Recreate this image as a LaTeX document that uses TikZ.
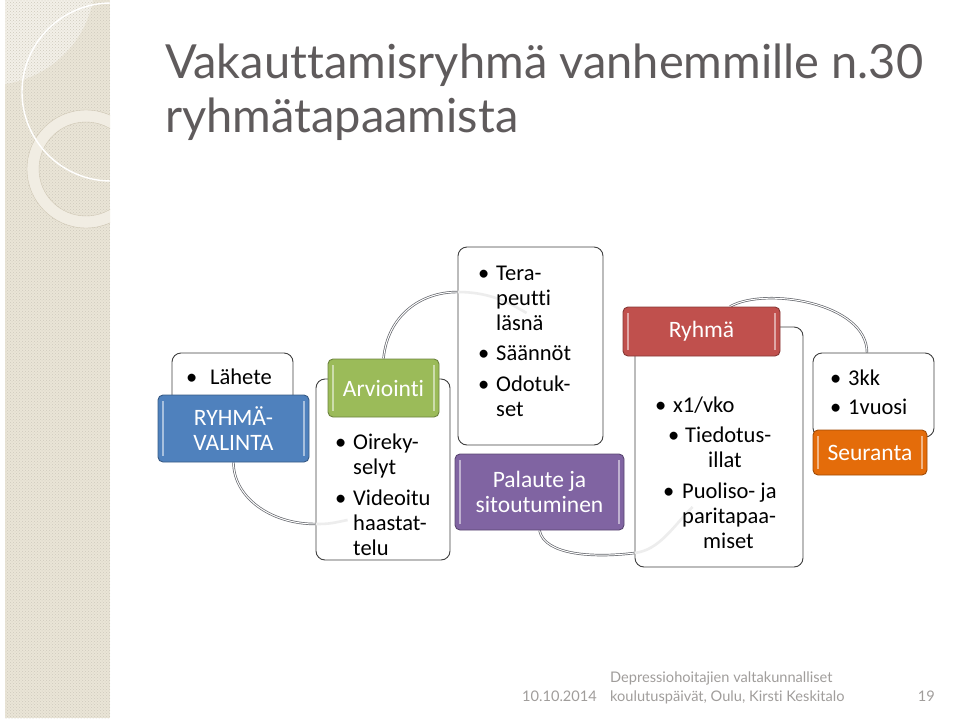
\documentclass[tikz,border=0pt]{standalone}
\usepackage{fontspec}
\setmainfont{Carlito}[Ligatures=NoCommon]
\newfontfamily\gillfont{Lato}[Ligatures=NoCommon]
\definecolor{titlegray}{RGB}{95,91,92}
\definecolor{footgray}{RGB}{160,157,155}
\definecolor{strip}{RGB}{234,229,215}
\definecolor{stripLight}{RGB}{243,240,232}
\definecolor{ringFill}{RGB}{241,237,227}
\definecolor{ringLine}{RGB}{205,197,178}
\definecolor{cBlue}{RGB}{79,129,189}
\definecolor{cGreen}{RGB}{155,187,89}
\definecolor{cPurple}{RGB}{128,100,162}
\definecolor{cRed}{RGB}{192,80,77}
\definecolor{cOrange}{RGB}{228,108,10}
\definecolor{linkgray}{RGB}{100,102,108}
\usetikzlibrary{arrows.meta,calc,backgrounds,patterns}
\newcommand\bul[1][18pt]{\makebox[#1][l]{•}}
\newcommand\cont[1][18pt]{\hspace*{#1}}
\tikzset{
  card/.style={draw=black!75, rounded corners=9pt, line width=0.9pt, fill=white, inner sep=0pt},
  tab/.style={draw=#1!70!black, fill=#1, rounded corners=5pt, line width=0.9pt,
              text=white, align=center, inner sep=0pt, font=\fontsize{23.5}{25.5}\selectfont,
              path picture={\draw[white,opacity=.5,line width=1.6pt]
                ([xshift=5pt,yshift=-6pt]path picture bounding box.north west) --
                ([xshift=5pt,yshift=6pt]path picture bounding box.south west)
                ([xshift=-5pt,yshift=-6pt]path picture bounding box.north east) --
                ([xshift=-5pt,yshift=6pt]path picture bounding box.south east);}},
  lst/.style={inner sep=0pt, align=left, anchor=base west, font=\fontsize{22.5}{25}\selectfont},
  foot/.style={inner sep=0pt, text=footgray, font=\gillfont\fontsize{14.6}{19}\selectfont},
  link/.style={draw=linkgray, double=white, double distance=1pt, line width=0.7pt},
  trail/.style={draw=black!7, line width=2.6pt},
}
\begin{document}
\begin{tikzpicture}[x=1pt,y=-1pt]
  \useasboundingbox (0,0) rectangle (959,718);
  % side strip
  \begin{scope}
    \clip (5,0) rectangle (110,718);
    \fill[strip] (5,0) rectangle (110,718);
    \fill[stripLight] (-10,-20) circle[radius=105];
    \pattern[pattern=crosshatch dots, pattern color=strip!88!black] (5,0) rectangle (110,718);
    \fill[ringFill, even odd rule] (86,169) circle[radius=59] (86,169) circle[radius=47];
    \draw[ringLine, thin] (86,169) circle[radius=59] (86,169) circle[radius=47];
    \draw[white, line width=1.4pt] (111,92) circle[radius=89];
  \end{scope}
  % title
  \node[font=\gillfont\fontsize{47}{54}\selectfont, text=titlegray, anchor=base west, inner sep=0pt]
    (ttl1) at (165,78) {Vakauttamisryhmä vanhemmille n.30};
  \node[font=\gillfont\fontsize{47}{54}\selectfont, text=titlegray, anchor=base west, inner sep=0pt]
    (ttl2) at (165,132) {ryhmätapaamista};
  % cards
  \node[card, minimum width=121pt, minimum height=67pt]  (lahete) at (232.5,386.5) {};
  \node[card, minimum width=134pt, minimum height=181pt] (arvl)   at (383,469.5) {};
  \node[card, minimum width=145pt, minimum height=198pt] (kokous) at (530.5,346) {};
  \node[card, minimum width=168pt, minimum height=240pt] (ryhl)   at (719,447) {};
  \node[card, minimum width=121pt, minimum height=84pt]  (seul)   at (873.5,395) {};
  % ends of the links
  \coordinate (inB) at ($(arvl.west)+(0,54.5)$);
  \coordinate (inC) at ($(kokous.west)+(0,-54)$);
  \coordinate (inD) at ($(ryhl.west)+(0,106)$);
  \draw[trail] (inB) .. controls +(15,0) and +(-15,3) .. ++(32,-4);
  \draw[trail] (inC) .. controls +(30,0) and +(-20,-12) .. ++(69,21);
  \draw[trail] (inD) .. controls +(25,-3) and +(-20,20) .. ++(58,-46);
  % lists (placed at the baseline of their last line)
  \node[lst] (lstA) at (186,384) {\bul[24pt]Lähete};
  \node[lst] (lstB) at (335,555) {\bul Oireky-\\\cont selyt\\[5.5pt]\bul Videoitu\\\cont haastat-\\\cont telu};
  \node[lst] (lstC) at (478,416) {\bul Tera-\\\cont peutti\\\cont läsnä\\[5.5pt]\bul Säännöt\\[5.5pt]\bul Odotuk-\\\cont set};
  \node[lst] (lstD) at (655,548) {\bul x1/vko\\[5.5pt]\cont[13pt]\bul[17pt]Tiedotus-\\\cont[53pt]illat\\[5.5pt]\cont[8pt]\bul[19pt]Puoliso- ja\\\cont[27pt]paritapaa-\\\cont[48pt]miset};
  \node[lst] (lstE) at (830,414) {\bul 3kk\\[4pt]\bul 1vuosi};
  % coloured tabs
  \node[tab=cBlue,   minimum width=151pt, minimum height=67pt] (valinta)  at (233.5,428.5) {RYHMÄ-\\VALINTA};
  \node[tab=cGreen,  minimum width=111pt, minimum height=58pt] (arviointi) at (383.5,388) {Arviointi};
  \node[tab=cPurple, minimum width=169pt, minimum height=76pt] (palaute)  at (539.5,492) {Palaute ja\\sitoutuminen};
  \node[tab=cRed,    minimum width=157pt, minimum height=49pt] (ryhma)    at (701.5,331.5) {Ryhmä};
  \node[tab=cOrange, minimum width=114pt, minimum height=45pt] (seuranta) at (870,452.5) {Seuranta};
  % links
  \begin{scope}[on background layer]
    \draw[link] (valinta.south) .. controls +(0,34) and +(-46,0) .. (inB);
    \draw[link] (arviointi.north) .. controls +(4,-42) and +(-38,0) .. (inC);
    \draw[link] (palaute.south) .. controls +(5,25) and +(-40,5) .. (inD);
    \draw[link] ([xshift=28.5pt]ryhma.north) .. controls +(35,-20) and +(0,-50) .. ([xshift=-6.5pt]seul.north);
  \end{scope}
  % footer
  \node[foot, anchor=base west] (datum) at (522,701) {10.10.2014};
  \node[foot, anchor=base west] (event1) at (610,682) {Depressiohoitajien valtakunnalliset};
  \node[foot, anchor=base west] (event2) at (610,701) {koulutuspäivät, Oulu, Kirsti Keskitalo};
  \node[foot, anchor=base east] (sivu) at (935,701) {19};
\end{tikzpicture}
\end{document}
